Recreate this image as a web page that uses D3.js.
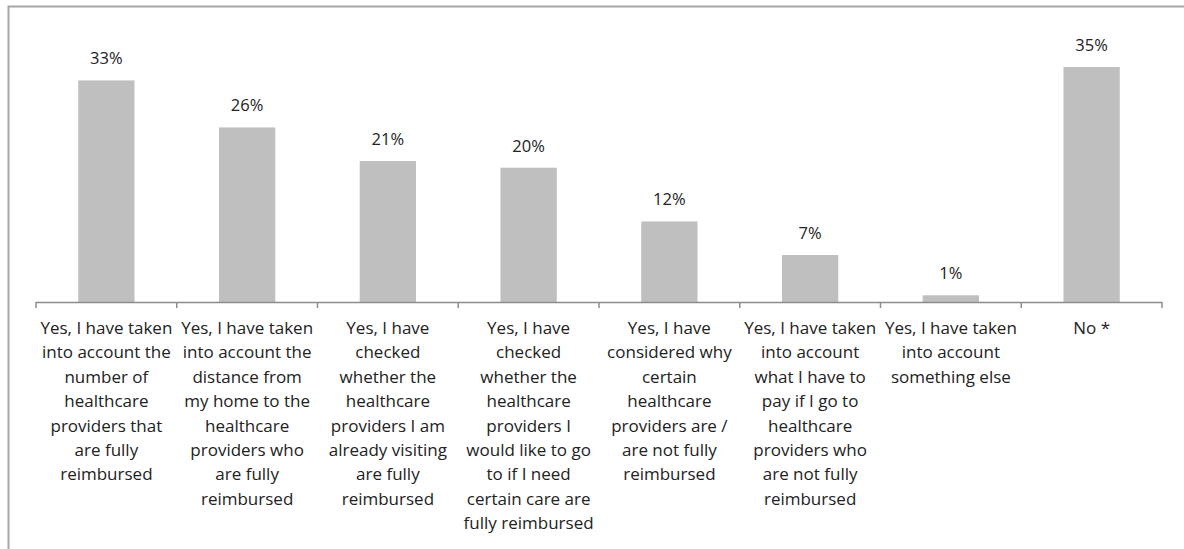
<!DOCTYPE html>
<html><head><meta charset="utf-8">
<script src="https://cdn.jsdelivr.net/npm/d3@7"></script>
<style>html,body{margin:0;padding:0;background:#fff;}svg{display:block;}</style>
</head><body>
<svg id="c" width="1184" height="549"></svg>
<script>
const categories = [
  "Yes, I have taken\ninto account the\nnumber of\nhealthcare\nproviders that\nare fully\nreimbursed",
  "Yes, I have taken\ninto account the\ndistance from\nmy home to the\nhealthcare\nproviders who\nare fully\nreimbursed",
  "Yes, I have\nchecked\nwhether the\nhealthcare\nproviders I am\nalready visiting\nare fully\nreimbursed",
  "Yes, I have\nchecked\nwhether the\nhealthcare\nproviders I\nwould like to go\nto if I need\ncertain care are\nfully reimbursed",
  "Yes, I have\nconsidered why\ncertain\nhealthcare\nproviders are /\nare not fully\nreimbursed",
  "Yes, I have taken\ninto account\nwhat I have to\npay if I go to\nhealthcare\nproviders who\nare not fully\nreimbursed",
  "Yes, I have taken\ninto account\nsomething else",
  "No *"
];
const values = [33, 26, 21, 20, 12, 7, 1, 35];
const valueLabels = ["33%", "26%", "21%", "20%", "12%", "7%", "1%", "35%"];

const svg = d3.select("#c");
const font = "'Open Sans', sans-serif";

// frame
svg.append("path").attr("d", "M8.5,549 L8.5,6.5 L1190,6.5")
  .attr("fill", "none").attr("stroke", "#a6a6a6").attr("stroke-width", 2);

const x = d3.scaleBand().domain(d3.range(categories.length)).range([36, 1162]).paddingInner(0.6).paddingOuter(0.3);
const y = d3.scaleLinear().domain([0, 35]).range([302, 67]);

svg.selectAll("rect.bar").data(values).enter().append("rect")
  .attr("class", "bar")
  .attr("x", (d, i) => x(i)).attr("width", x.bandwidth())
  .attr("y", d => y(d)).attr("height", d => y(0) - y(d))
  .attr("fill", "#bfbfbf");

svg.selectAll("text.val").data(values).enter().append("text")
  .attr("class", "val")
  .attr("x", (d, i) => x(i) + x.bandwidth() / 2)
  .attr("y", d => y(d) - 16)
  .attr("text-anchor", "middle")
  .attr("font-family", font).attr("font-size", 16.5).attr("fill", "#222")
  .text((d, i) => valueLabels[i]);

// axis line and ticks
const step = (1162 - 36) / categories.length;
const axisG = svg.append("g");
axisG.append("line").attr("x1", 36).attr("x2", 1162).attr("y1", 302.5).attr("y2", 302.5)
  .attr("stroke", "#8c8c8c").attr("stroke-width", 1.5);
axisG.selectAll("line.tick").data(d3.range(categories.length + 1)).enter().append("line")
  .attr("class", "tick")
  .attr("x1", i => 36 + i * step).attr("x2", i => 36 + i * step)
  .attr("y1", 302).attr("y2", 308)
  .attr("stroke", "#8c8c8c").attr("stroke-width", 1.5);

// category labels
const lab = svg.selectAll("text.cat").data(categories).enter().append("text")
  .attr("class", "cat")
  .attr("text-anchor", "middle")
  .attr("font-family", font).attr("font-size", 17).attr("fill", "#222");
lab.each(function(d, i) {
  const t = d3.select(this);
  d.split("\n").forEach((line, k) => {
    t.append("tspan").attr("x", x(i) + x.bandwidth() / 2).attr("y", 334 + k * 24.4).text(line);
  });
});
</script>
</body></html>
